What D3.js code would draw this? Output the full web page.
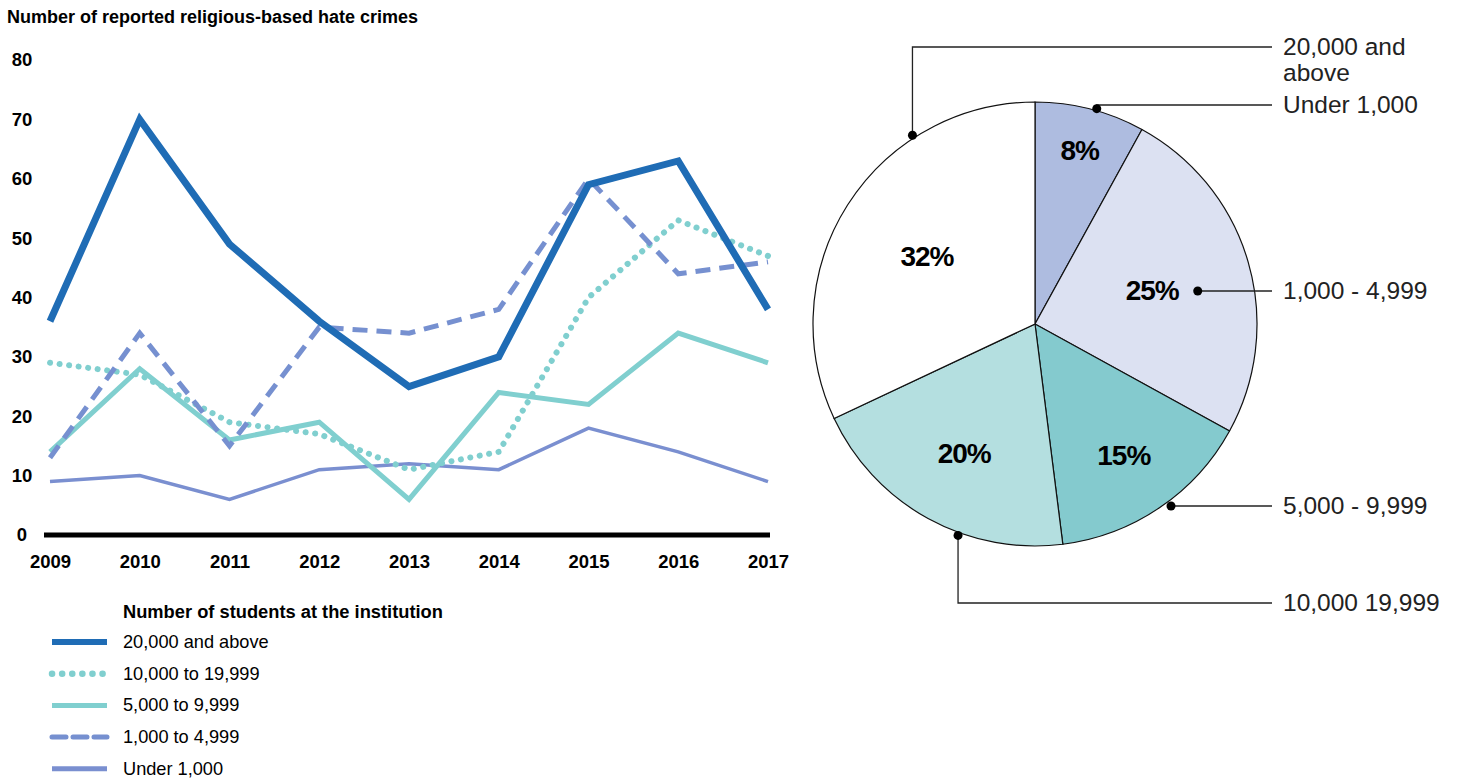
<!DOCTYPE html>
<html>
<head>
<meta charset="utf-8">
<script src="https://cdn.jsdelivr.net/npm/d3@7"></script>
<style>
body { margin: 0; background: #fff; }
svg { font-family: "Liberation Sans", Arial, sans-serif; }
</style>
</head>
<body>
<svg id="chart" width="1462" height="780"></svg>
<script>
// line chart data
var years = [2009, 2010, 2011, 2012, 2013, 2014, 2015, 2016, 2017]
var yTicks = [0, 10, 20, 30, 40, 50, 60, 70, 80]
var seriesNames = ['20,000 and above', '10,000 to 19,999', '5,000 to 9,999', '1,000 to 4,999', 'Under 1,000']
var over20k = [36, 70, 49, 36, 25, 30, 59, 63, 38]
var from10k = [29, 27, 19, 17, 11, 14, 40, 53, 47]
var from5k = [14, 28, 16, 19, 6, 24, 22, 34, 29]
var from1k = [13, 34, 15, 35, 34, 38, 60, 44, 46]
var under1k = [9, 10, 6, 11, 12, 11, 18, 14, 9]

// pie data (clockwise from 12 o'clock)
var pieNames = ['Under 1,000', '1,000 - 4,999', '5,000 - 9,999', '10,000 19,999', '20,000 and above']
var pieValues = [8, 25, 15, 20, 32]

var svg = d3.select('#chart')

// ---- line chart ----
var x = d3.scalePoint().domain(years).range([50, 768])
var y = d3.scaleLinear().domain([0, 80]).range([535, 60])

svg.append('text')
    .attr('x', 7).attr('y', 23)
    .style('font-size', '18px').style('font-weight', 'bold')
    .text('Number of reported religious-based hate crimes')

var yAxis = svg.append('g')
    .attr('transform', 'translate(32,0)')
    .call(d3.axisLeft(y).tickValues(yTicks).tickSize(0).tickPadding(0))
yAxis.select('.domain').remove()
yAxis.selectAll('text')
    .attr('text-anchor', 'middle').attr('x', -10)
    .style('font-size', '18.5px').style('font-weight', 'bold')
    .style('font-family', '"Liberation Sans", Arial, sans-serif').attr('fill', '#000')

var xAxis = svg.append('g')
    .attr('transform', 'translate(0,' + y(0) + ')')
    .call(d3.axisBottom(x).tickSize(0).tickPadding(20))
xAxis.select('.domain').remove()
xAxis.selectAll('text')
    .style('font-size', '18.5px').style('font-weight', 'bold')
    .style('font-family', '"Liberation Sans", Arial, sans-serif').attr('fill', '#000')

svg.append('line')
    .attr('x1', 44).attr('x2', 770)
    .attr('y1', y(0)).attr('y2', y(0))
    .attr('stroke', '#000').attr('stroke-width', 5)

var styles = [
    {color: '#1f6cb5', width: 7, dash: null, cap: 'butt'},
    {color: '#80cfcf', width: 6, dash: '0.1 9.5', cap: 'round'},
    {color: '#80cfcf', width: 5, dash: null, cap: 'butt'},
    {color: '#7690d0', width: 5, dash: '15 9', cap: 'butt'},
    {color: '#7a8fd0', width: 3.5, dash: null, cap: 'butt'}
]
var series = [over20k, from10k, from5k, from1k, under1k]

var line = d3.line()
    .x(function(d, i) { return x(years[i]) })
    .y(function(d) { return y(d) })

// draw order: bottom first
var order = [4, 2, 1, 3, 0]
order.forEach(function(k) {
    svg.append('path')
        .attr('d', line(series[k]))
        .attr('fill', 'none')
        .attr('stroke', styles[k].color)
        .attr('stroke-width', styles[k].width)
        .attr('stroke-dasharray', styles[k].dash)
        .attr('stroke-linecap', styles[k].cap)
        .attr('stroke-linejoin', 'miter')
})

// legend
svg.append('text')
    .attr('x', 123).attr('y', 618)
    .style('font-size', '18.3px').style('font-weight', 'bold')
    .text('Number of students at the institution')

seriesNames.forEach(function(name, k) {
    var ly = 642 + k * 31.7
    var s = styles[k]
    if (k == 1) {
        svg.append('line')
            .attr('x1', 52).attr('x2', 104).attr('y1', ly).attr('y2', ly)
            .attr('stroke', s.color).attr('stroke-width', 6.5)
            .attr('stroke-dasharray', '0.1 10').attr('stroke-linecap', 'round')
    } else {
        svg.append('line')
            .attr('x1', 52).attr('x2', 107).attr('y1', ly).attr('y2', ly)
            .attr('stroke', s.color).attr('stroke-width', k == 0 ? 6 : 5)
            .attr('stroke-dasharray', k == 3 ? '14 7' : null)
            .attr('stroke-linecap', k == 3 ? 'round' : 'butt')
    }
    svg.append('text')
        .attr('x', 123).attr('y', ly + 6)
        .style('font-size', '18.2px')
        .text(name)
})

// ---- pie ----
var cx = 1035, cy = 324, R = 222
var pieColors = ['#aebce0', '#dce1f2', '#84cace', '#b4dfe0', '#ffffff']
var labelR = [180, 122, 158, 147, 128]

var pie = d3.pie().sort(null).value(function(d) { return d })
var arcs = pie(pieValues)
var arc = d3.arc().innerRadius(0).outerRadius(R)

var pg = svg.append('g').attr('transform', 'translate(' + cx + ',' + cy + ')')
pg.selectAll('path.slice')
    .data(arcs)
    .enter()
    .append('path')
    .classed('slice', true)
    .attr('d', arc)
    .attr('fill', function(d, i) { return pieColors[i] })
    .attr('stroke', '#111').attr('stroke-width', 1.2)

pg.selectAll('text.pct')
    .data(arcs)
    .enter()
    .append('text')
    .classed('pct', true)
    .attr('transform', function(d, i) {
        var c = d3.arc().innerRadius(labelR[i]).outerRadius(labelR[i]).centroid(d)
        return 'translate(' + c[0] + ',' + c[1] + ')'
    })
    .attr('text-anchor', 'middle').attr('dy', '0.36em')
    .style('font-size', '28px').style('font-weight', 'bold')
    .style('letter-spacing', '-1px')
    .text(function(d) { return d.data + '%' })

// leader lines: angle (deg) and radius of dot, elbow y, label text lines
var leaders = [
    {ang: 16, r: 224, y: 105, lines: ['Under 1,000']},
    {ang: 78.6, r: 166, y: 291, lines: ['1,000 - 4,999']},
    {ang: 143, r: 226, y: 506, lines: ['5,000 - 9,999']},
    {ang: 200, r: 225, y: 603, lines: ['10,000 19,999']},
    {ang: 327, r: 225, y: 47, lines: ['20,000 and', 'above']}
]
var lineEnd = 1272
leaders.forEach(function(l) {
    var a = l.ang * Math.PI / 180
    var dx = cx + l.r * Math.sin(a)
    var dy = cy - l.r * Math.cos(a)
    var pts = Math.abs(dy - l.y) < 3 ? [[dx, l.y], [lineEnd, l.y]] : [[dx, dy], [dx, l.y], [lineEnd, l.y]]
    svg.append('path')
        .attr('d', d3.line()(pts))
        .attr('fill', 'none').attr('stroke', '#222').attr('stroke-width', 1.3)
    svg.append('circle')
        .attr('cx', dx).attr('cy', Math.abs(dy - l.y) < 3 ? l.y : dy).attr('r', 4.5)
        .attr('fill', '#000')
    l.lines.forEach(function(t, j) {
        svg.append('text')
            .attr('x', 1283).attr('y', l.y + 8 + j * 26)
            .style('font-size', '24.5px')
            .attr('fill', '#222')
            .text(t)
    })
})
</script>
</body>
</html>
